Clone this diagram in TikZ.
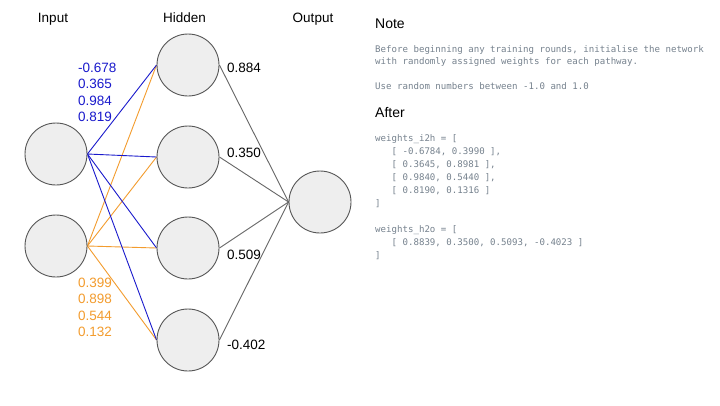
\documentclass[tikz,border=0pt]{standalone}
\usepackage{fontspec}
\setmainfont{Liberation Sans}
\setmonofont{DejaVu Sans Mono}
\definecolor{nodefill}{HTML}{EEEEEE}
\definecolor{nodeline}{HTML}{555555}
\definecolor{wblue}{HTML}{1A1ACC}
\definecolor{worange}{HTML}{F39C2E}
\definecolor{wgray}{HTML}{666666}
\definecolor{codegray}{HTML}{76828E}
\pgfdeclarelayer{edges}
\pgfsetlayers{edges,main}
\tikzset{
  neuron/.style={circle, draw=nodeline, fill=nodefill, line width=0.9pt, minimum size=62pt, inner sep=0pt},
  blueedge/.style={draw=wblue, line width=0.9pt},
  orangeedge/.style={draw=worange, line width=0.9pt},
  grayedge/.style={draw=wgray, line width=0.9pt},
  title/.style={font=\fontsize{13.5}{16}\selectfont, anchor=base},
  bluelbl/.style={font=\fontsize{13.5}{16}\selectfont, text=wblue, anchor=base west, inner sep=0pt},
  orangelbl/.style={font=\fontsize{13.5}{16}\selectfont, text=worange, anchor=base west, inner sep=0pt},
  wlbl/.style={font=\fontsize{13.5}{16}\selectfont, anchor=base west, inner sep=0pt},
  head/.style={font=\fontsize{14}{16}\selectfont, anchor=base west, inner sep=0pt},
  code/.style={font=\ttfamily\fontsize{9.1}{11}\selectfont, text=codegray, anchor=base west, inner sep=0pt},
}
\begin{document}
\begin{tikzpicture}[x=1pt, y=-1pt]
\begin{pgfonlayer}{edges}
\useasboundingbox[fill=white] (0,0) rectangle (720,405);
\end{pgfonlayer}
% nodes
\node[neuron] (i1) at (56,154) {};
\node[neuron] (i2) at (56,246) {};
\node[neuron] (h1) at (188,65) {};
\node[neuron] (h2) at (188,157) {};
\node[neuron] (h3) at (188,248) {};
\node[neuron] (h4) at (188,340) {};
\node[neuron] (o) at (320,202) {};
% edges (drawn beneath the nodes)
\begin{pgfonlayer}{edges}
\foreach \h in {h1,h2,h3,h4} {
  \draw[orangeedge] (i2.east) -- (\h.west);
}
\foreach \h in {h1,h2,h3,h4} {
  \draw[blueedge] (i1.east) -- (\h.west);
}
\foreach \h in {h1,h2,h3,h4} {
  \draw[grayedge] (\h.east) -- (o.west);
}
\end{pgfonlayer}
% titles
\node[title] (tin) at (53,22) {Input};
\node[title] (thid) at (184.5,22) {Hidden};
\node[title] (tout) at (313,22) {Output};
% weights
\node[bluelbl] (b1) at (78,72) {-0.678};
\node[bluelbl] (b2) at (78,88.5) {0.365};
\node[bluelbl] (b3) at (78,105) {0.984};
\node[bluelbl] (b4) at (78,121.5) {0.819};
\node[orangelbl] (r1) at (78,287) {0.399};
\node[orangelbl] (r2) at (78,303.5) {0.898};
\node[orangelbl] (r3) at (78,320) {0.544};
\node[orangelbl] (r4) at (78,336.5) {0.132};
\node[wlbl] (w1) at (227,72) {0.884};
\node[wlbl] (w2) at (227,157) {0.350};
\node[wlbl] (w3) at (227,259) {0.509};
\node[wlbl] (w4) at (227,349) {-0.402};
% note panel
\node[head] (note) at (375,28) {Note};
\node[code] (n1) at (375,52) {Before beginning any training rounds, initialise the network};
\node[code] (n2) at (375,64.5) {with randomly assigned weights for each pathway.};
\node[code] (n3) at (375,89) {Use random numbers between -1.0 and 1.0};
\node[head] (after) at (375,117) {After};
\node[code] (c1) at (375,141) {weights\_i2h = [};
\node[code] (c2) at (375,154) {\ \ \ [ -0.6784, 0.3990 ],};
\node[code] (c3) at (375,167) {\ \ \ [ 0.3645, 0.8981 ],};
\node[code] (c4) at (375,180) {\ \ \ [ 0.9840, 0.5440 ],};
\node[code] (c5) at (375,193) {\ \ \ [ 0.8190, 0.1316 ]};
\node[code] (c6) at (375,206) {]};
\node[code] (c7) at (375,232) {weights\_h2o = [};
\node[code] (c8) at (375,245) {\ \ \ [ 0.8839, 0.3500, 0.5093, -0.4023 ]};
\node[code] (c9) at (375,258) {]};
\end{tikzpicture}
\end{document}
